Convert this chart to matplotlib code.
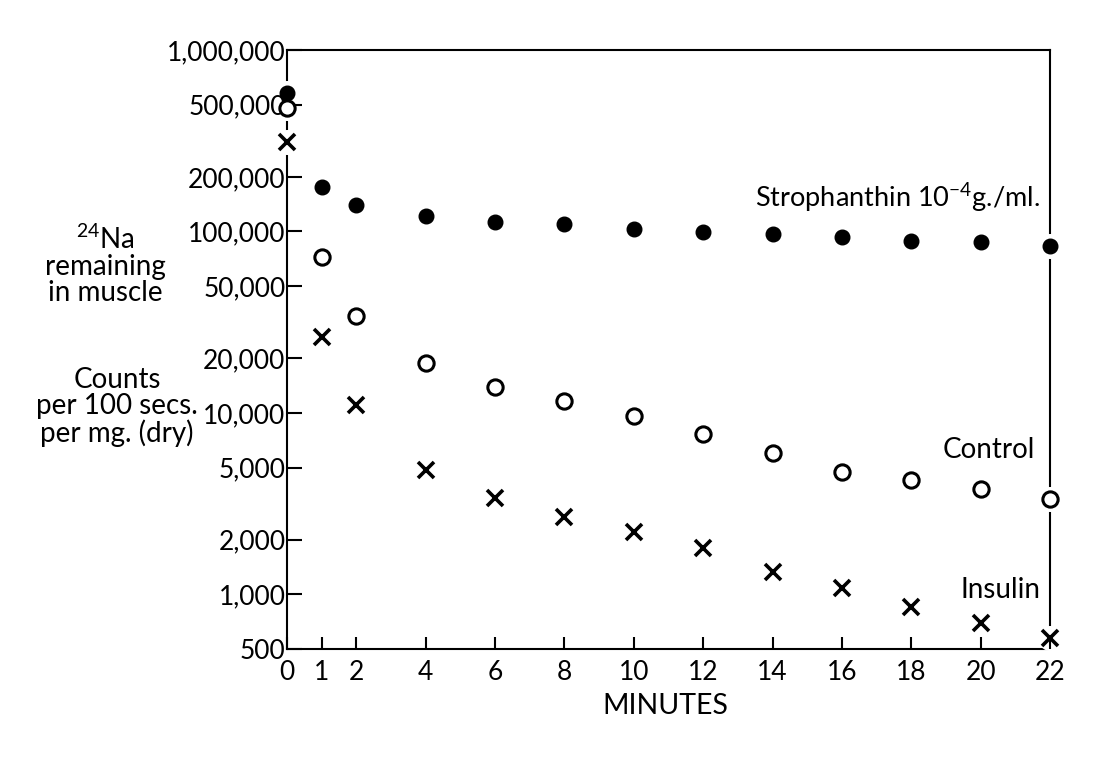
import matplotlib
matplotlib.use("Agg")
import matplotlib.pyplot as plt

plt.rcParams['font.family'] = ['Lato', 'DejaVu Sans']
plt.rcParams['mathtext.fontset'] = 'custom'
plt.rcParams['mathtext.rm'] = 'Lato'
plt.rcParams['mathtext.default'] = 'regular'

# data (minutes, counts per 100 s per mg dry)
minutes = [0, 1, 2, 4, 6, 8, 10, 12, 14, 16, 18, 20, 22]
strophanthin = [580000, 176000, 140000, 121700, 113300, 110000, 103200,
                99400, 96900, 93250, 88650, 87500, 83200]
control = [479000, 72350, 34220, 18860, 13910, 11650, 9630,
           7660, 6020, 4730, 4275, 3815, 3360]
insulin = [311300, 26230, 11070, 4850, 3400, 2673, 2210,
           1804, 1330, 1086, 853, 697, 576]

x_ticks = [0, 1, 2, 4, 6, 8, 10, 12, 14, 16, 18, 20, 22]
y_ticks = [500, 1000, 2000, 5000, 10000, 20000, 50000, 100000,
           200000, 500000, 1000000]
y_labels = ['500', '1,000', '2,000', '5,000', '10,000', '20,000', '50,000',
            '100,000', '200,000', '500,000', '1,000,000']

fig = plt.figure(figsize=(10.95, 7.73), dpi=100)
ax = fig.add_axes([0.2621, 0.1604, 0.6968, 0.7749])
ax.set_yscale('log')
ax.set_xlim(0, 22)
ax.set_ylim(500, 1000000)

for sp in ax.spines.values():
    sp.set_linewidth(1.5)

# white halos so the markers break the spines like in the print
for ys in (strophanthin, control, insulin):
    ax.plot(minutes, ys, 'o', ms=17, color='white', mec='white',
            clip_on=False, zorder=3)

ax.plot(minutes, strophanthin, 'o', ms=10.5, color='black',
        clip_on=False, zorder=4)
ax.plot(minutes, control, 'o', ms=11, mfc='white', mec='black', mew=2.2,
        clip_on=False, zorder=4)
ax.plot(minutes, insulin, 'x', ms=12, color='black', mew=2.6,
        clip_on=False, zorder=4)

# keep tick labels above the halos
ax.yaxis.set_zorder(3.5)
ax.xaxis.set_zorder(3.5)

ax.set_xticks(x_ticks)
ax.set_xticklabels([str(t) for t in x_ticks])
ax.set_yticks(y_ticks)
ax.set_yticklabels(y_labels)
ax.minorticks_off()
ax.tick_params(axis='y', direction='in', length=11, width=1.5,
               labelsize=19, pad=1)
ax.tick_params(axis='x', direction='in', length=9, width=1.5,
               labelsize=19, pad=8)

ax.text(0.987, 0.753, 'Strophanthin 10$^{-4}$g./ml.', transform=ax.transAxes,
        ha='right', va='center', fontsize=19.5)
ax.text(0.980, 0.332, 'Control', transform=ax.transAxes,
        ha='right', va='center', fontsize=20)
ax.text(0.987, 0.0985, 'Insulin', transform=ax.transAxes,
        ha='right', va='center', fontsize=20)

fig.text(665 / 1095, 1 - 706 / 773, 'MINUTES', ha='center', va='center',
         fontsize=20.5)
fig.text(105 / 1095, 1 - 265 / 773, '$^{24}$Na\nremaining\nin muscle',
         ha='center', va='center', fontsize=20, linespacing=1.0)
fig.text(117 / 1095, 1 - 407 / 773, 'Counts\nper 100 secs.\nper mg. (dry)',
         ha='center', va='center', fontsize=20, linespacing=1.0)

fig.savefig('out.png', dpi=100)
